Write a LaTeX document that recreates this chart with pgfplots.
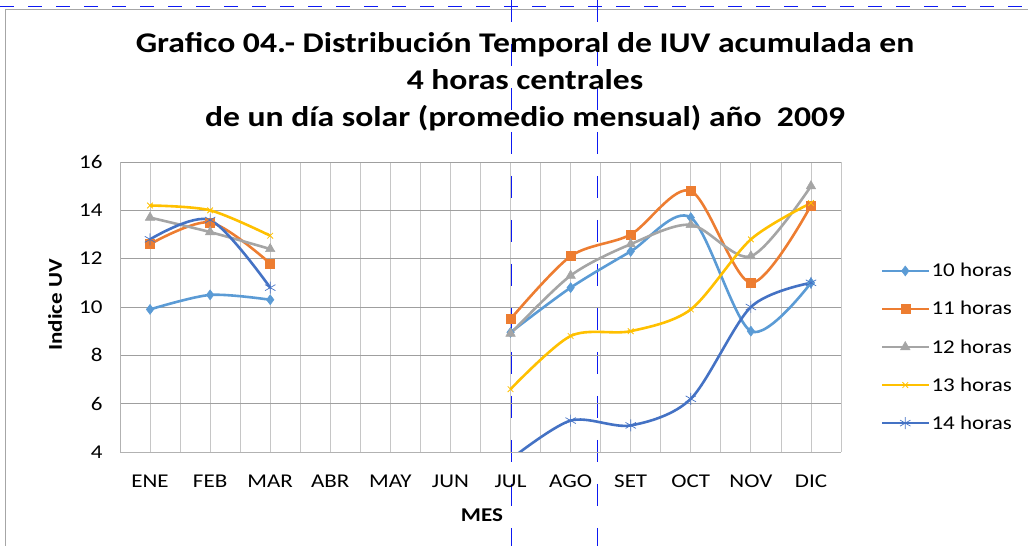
\documentclass[border=0pt]{standalone}
\usepackage{fontspec}
\setmainfont{Carlito}[FakeStretch=1.18]
\usepackage{pgfplots}
\pgfplotsset{compat=1.18}
\definecolor{sA}{HTML}{5B9BD5}
\definecolor{sB}{HTML}{ED7D31}
\definecolor{sC}{HTML}{A5A5A5}
\definecolor{sD}{HTML}{FFC000}
\definecolor{sE}{HTML}{4472C4}
\definecolor{pagedash}{rgb}{0.05,0.1,0.95}
\begin{document}
\begin{tikzpicture}[x=1pt,y=1pt]
\useasboundingbox (0,0) rectangle (1028,546);
% page artifacts from the scanned document
\draw[gray!70, line width=0.8pt] (5,537) -- (1028,537);
\draw[gray!70, line width=0.8pt] (5,537) -- (5,0);
\draw[pagedash, line width=1pt, dash pattern=on 14pt off 14pt] (0,539) -- (1028,539);
\draw[pagedash, line width=1pt, dash pattern=on 22pt off 22pt] (511,546) -- (511,0);
\draw[pagedash, line width=1pt, dash pattern=on 22pt off 22pt] (597,546) -- (597,0);
\node[font=\fontsize{28.5}{37}\selectfont\bfseries, align=center] at (525,464)
  {Grafico 04.- Distribución Temporal de IUV acumulada en\\4 horas centrales\\de un día solar (promedio mensual) año\ \ 2009};
\begin{axis}[
  at={(120pt,94pt)}, anchor=south west,
  scale only axis, width=721pt, height=290pt,
  xmin=-0.5, xmax=11.5, ymin=4, ymax=16,
  ytick={4,6,...,16},
  xtick={0,...,11},
  xticklabels={ENE,FEB,MAR,ABR,MAY,JUN,JUL,AGO,SET,OCT,NOV,DIC},
  minor xtick={-0.5,0.5,...,11.5},
  grid=both,
  major x grid style={draw=gray!45, line width=0.8pt},
  minor x grid style={draw=gray!45, line width=0.8pt},
  major y grid style={draw=gray!75, line width=0.8pt},
  axis line style={draw=gray!60, line width=0.8pt},
  axis x line*=bottom, axis y line*=left,
  tick style={draw=none},
  tick label style={font=\fontsize{19.5}{23}\selectfont},
  /pgf/number format/assume math mode=true,
  xticklabel style={yshift=-19pt},
  yticklabel style={xshift=-14pt},
  xlabel={MES}, ylabel={Indice UV},
  label style={font=\fontsize{19.5}{23}\selectfont\bfseries},
  xlabel style={at={(axis description cs:0.502,-0.217)}, anchor=center},
  ylabel style={at={(axis description cs:-0.090,0.507)}, anchor=center},
  legend style={at={(1.051,0.362)}, anchor=west, draw=none, fill=none,
    font=\fontsize{19.5}{23}\selectfont, row sep=19pt,
    /tikz/every even column/.append style={column sep=4pt}},
  legend cell align=left,
  legend image code/.code={\draw[mark repeat=2, mark phase=2] plot coordinates {(0pt,0pt) (23pt,0pt) (46pt,0pt)};},
  every axis plot/.append style={line width=2.6pt, smooth, tension=0.5},
  clip=true,
]
% 10 horas
\addplot[sA, mark=diamond*, mark size=5pt, mark options={fill=sA, line width=0.5pt}] coordinates {(0,9.9) (1,10.5) (2,10.3)};
\addlegendentry{10 horas}
% 11 horas
\addplot[sB, mark=square*, mark size=4.5pt, mark options={fill=sB, line width=0.5pt}] coordinates {(0,12.6) (1,13.5) (2,11.8)};
\addlegendentry{11 horas}
% 12 horas
\addplot[sC, mark=triangle*, mark size=5.5pt, mark options={fill=sC, line width=0.5pt}] coordinates {(0,13.7) (1,13.1) (2,12.4)};
\addlegendentry{12 horas}
% 13 horas
\addplot[sD, mark=x, mark size=4pt, mark options={line width=0.8pt}] coordinates {(0,14.2) (1,14.0) (2,12.95)};
\addlegendentry{13 horas}
% 14 horas
\addplot[sE, mark=asterisk, mark size=6pt, mark options={line width=0.7pt}] coordinates {(0,12.8) (1,13.6) (2,10.8)};
\addlegendentry{14 horas}
% second segments
\addplot[sA, mark=diamond*, mark size=5pt, mark options={fill=sA, line width=0.5pt}, forget plot] coordinates {(6,8.95) (7,10.8) (8,12.3) (9,13.7) (10,9.0) (11,11.0)};
\addplot[sB, mark=square*, mark size=4.5pt, mark options={fill=sB, line width=0.5pt}, forget plot] coordinates {(6,9.5) (7,12.1) (8,13.0) (9,14.8) (10,11.0) (11,14.2)};
\addplot[sC, mark=triangle*, mark size=5.5pt, mark options={fill=sC, line width=0.5pt}, forget plot] coordinates {(6,8.9) (7,11.3) (8,12.6) (9,13.4) (10,12.1) (11,15.0)};
\addplot[sD, mark=x, mark size=4pt, mark options={line width=0.8pt}, forget plot] coordinates {(6,6.6) (7,8.8) (8,9.0) (9,9.9) (10,12.8) (11,14.3)};
\addplot[sE, mark=asterisk, mark size=6pt, mark options={line width=0.7pt}, forget plot] coordinates {(6,3.7) (7,5.3) (8,5.1) (9,6.2) (10,10.0) (11,11.0)};
\end{axis}
\end{tikzpicture}
\end{document}
